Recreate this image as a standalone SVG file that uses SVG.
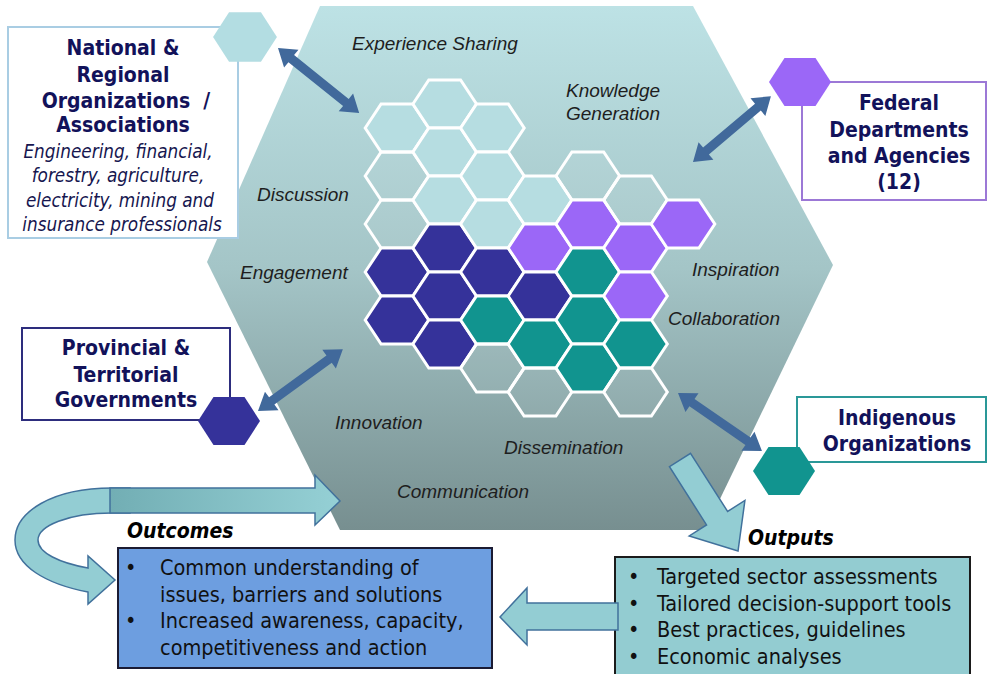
<svg xmlns="http://www.w3.org/2000/svg" width="988" height="674" viewBox="0 0 988 674">
  <style>
    .ttl{font-family:"DejaVu Sans Condensed","DejaVu Sans",sans-serif;font-stretch:condensed;font-weight:bold;font-size:21px;fill:#12125a;text-anchor:middle}
    .sub{font-family:"DejaVu Sans Condensed","DejaVu Sans",sans-serif;font-stretch:condensed;font-style:italic;font-size:18.8px;fill:#16164f;text-anchor:middle}
    .lbl{font-family:"Liberation Sans",Arial,sans-serif;font-style:italic;font-size:19px;fill:#1e1e1e}
    .txt{font-family:"DejaVu Sans Condensed","DejaVu Sans",sans-serif;font-stretch:condensed;font-size:21.5px;fill:#111}
    .hd{font-family:"DejaVu Sans Condensed","DejaVu Sans",sans-serif;font-stretch:condensed;font-weight:bold;font-style:italic;font-size:21px;fill:#000}
    .L{fill:#b6dde1}
    .G{fill:#ffffff;fill-opacity:0.05}
    .N{fill:#35329a}
    .P{fill:#9b67f7}
    .T{fill:#11948f}
    .cells use{stroke:#ffffff;stroke-width:3}
    .dbl{fill:#41699b}
    .blk{fill:#93cdd3;stroke:#41719c;stroke-width:1.5}
    .box{fill:#ffffff;stroke-width:2}
  </style>
  <defs>
    <linearGradient id="hexBg" x1="0" y1="0" x2="0" y2="1">
      <stop offset="0" stop-color="#bde2e5"/>
      <stop offset="0.5" stop-color="#a4c5c7"/>
      <stop offset="1" stop-color="#778f90"/>
    </linearGradient>
    <linearGradient id="shaftGrad" x1="0" y1="0" x2="1" y2="0">
      <stop offset="0" stop-color="#72aeb4"/>
      <stop offset="1" stop-color="#95d0d5"/>
    </linearGradient>
    <polygon id="cell" points="-31.8,0 -15.9,-24 15.9,-24 31.8,0 15.9,24 -15.9,24"/>
    <polygon id="nodeHex" points="-31,0 -15.5,-24 15.5,-24 31,0 15.5,24 -15.5,24"/>
  </defs>

  <!-- central hexagon backdrop -->
  <g id="hub">
    <polygon points="320,6 693,6 833,265 705,530 340,530 207,262" fill="url(#hexBg)"/>
  </g>

  <!-- honeycomb of cells -->
  <g id="honeycomb" class="cells">
    <use href="#cell" class="L" x="397" y="128"/>
    <use href="#cell" class="G" x="397" y="176"/>
    <use href="#cell" class="G" x="397" y="224"/>
    <use href="#cell" class="N" x="397" y="272"/>
    <use href="#cell" class="N" x="397" y="320"/>

    <use href="#cell" class="L" x="444.7" y="104"/>
    <use href="#cell" class="L" x="444.7" y="152"/>
    <use href="#cell" class="L" x="444.7" y="200"/>
    <use href="#cell" class="N" x="444.7" y="248"/>
    <use href="#cell" class="N" x="444.7" y="296"/>
    <use href="#cell" class="N" x="444.7" y="344"/>

    <use href="#cell" class="L" x="492.4" y="128"/>
    <use href="#cell" class="L" x="492.4" y="176"/>
    <use href="#cell" class="L" x="492.4" y="224"/>
    <use href="#cell" class="N" x="492.4" y="272"/>
    <use href="#cell" class="T" x="492.4" y="320"/>
    <use href="#cell" class="G" x="492.4" y="368"/>

    <use href="#cell" class="L" x="540" y="200"/>
    <use href="#cell" class="P" x="540" y="248"/>
    <use href="#cell" class="N" x="540" y="296"/>
    <use href="#cell" class="T" x="540" y="344"/>
    <use href="#cell" class="G" x="540" y="392"/>

    <use href="#cell" class="G" x="587.8" y="176"/>
    <use href="#cell" class="P" x="587.8" y="224"/>
    <use href="#cell" class="T" x="587.8" y="272"/>
    <use href="#cell" class="T" x="587.8" y="320"/>
    <use href="#cell" class="T" x="587.8" y="368"/>

    <use href="#cell" class="G" x="635.5" y="200"/>
    <use href="#cell" class="P" x="635.5" y="248"/>
    <use href="#cell" class="P" x="635.5" y="296"/>
    <use href="#cell" class="T" x="635.5" y="344"/>
    <use href="#cell" class="G" x="635.5" y="392"/>

    <use href="#cell" class="P" x="683" y="224"/>
  </g>

  <!-- activity words around the honeycomb -->
  <g id="activities" class="lbl">
    <text x="352" y="50">Experience Sharing</text>
    <text x="566" y="97">Knowledge</text>
    <text x="566" y="120">Generation</text>
    <text x="257" y="201">Discussion</text>
    <text x="240" y="279">Engagement</text>
    <text x="692" y="276">Inspiration</text>
    <text x="668" y="325">Collaboration</text>
    <text x="335" y="429">Innovation</text>
    <text x="504" y="454">Dissemination</text>
    <text x="397" y="498">Communication</text>
  </g>

  <!-- partner nodes -->
  <g id="national">
    <rect class="box" x="8" y="27" width="230" height="211" stroke="#a9cde3"/>
    <use href="#nodeHex" x="245" y="37" fill="#b3dde2" transform="translate(245 37) scale(1.03) translate(-245 -37)"/>
    <text class="ttl" x="123" y="55">National &amp;</text>
    <text class="ttl" x="123" y="82">Regional</text>
    <text class="ttl" x="126" y="108" style="white-space:pre">Organizations  /</text>
    <text class="ttl" x="123" y="132">Associations</text>
    <text class="sub" x="118" y="158">Engineering, financial,</text>
    <text class="sub" x="118" y="182">forestry, agriculture,</text>
    <text class="sub" x="120" y="207">electricity, mining and</text>
    <text class="sub" x="122" y="231">insurance professionals</text>
  </g>

  <g id="federal">
    <rect class="box" x="802" y="82" width="184" height="118" stroke="#9c78d6"/>
    <use href="#nodeHex" x="800" y="82" fill="#9b67f7"/>
    <text class="ttl" x="899" y="110">Federal</text>
    <text class="ttl" x="899" y="137">Departments</text>
    <text class="ttl" x="899" y="163">and Agencies</text>
    <text class="ttl" x="899" y="189">(12)</text>
  </g>

  <g id="provincial">
    <rect class="box" x="22" y="328" width="208" height="92" stroke="#2d2d7d" stroke-width="1.5"/>
    <text class="ttl" x="126" y="355">Provincial &amp;</text>
    <text class="ttl" x="126" y="382">Territorial</text>
    <text class="ttl" x="126" y="407">Governments</text>
    <use href="#nodeHex" x="229" y="421" fill="#35329a"/>
  </g>

  <g id="indigenous">
    <rect class="box" x="797" y="397" width="189" height="65" stroke="#2a9898"/>
    <text class="ttl" x="897" y="425">Indigenous</text>
    <text class="ttl" x="897" y="451">Organizations</text>
    <use href="#nodeHex" x="784" y="471" fill="#11948f"/>
  </g>

  <!-- result boxes -->
  <g id="outcomes">
    <text class="hd" x="127" y="538">Outcomes</text>
    <rect x="118" y="548" width="374" height="120" fill="#6d9ee0" stroke="#1b1b33" stroke-width="2"/>
    <g class="txt">
      <text x="125" y="575">•</text>
      <text x="160" y="575">Common understanding of</text>
      <text x="160" y="602">issues, barriers and solutions</text>
      <text x="125" y="628">•</text>
      <text x="160" y="628">Increased awareness, capacity,</text>
      <text x="160" y="655">competitiveness and action</text>
    </g>
  </g>

  <g id="outputs">
    <text class="hd" x="748" y="545">Outputs</text>
    <rect x="615" y="557" width="355" height="125" fill="#93ccd1" stroke="#1b1b1b" stroke-width="2"/>
    <g class="txt">
      <text x="628" y="584">•</text>
      <text x="657" y="584">Targeted sector assessments</text>
      <text x="628" y="611">•</text>
      <text x="657" y="611">Tailored decision-support tools</text>
      <text x="628" y="637">•</text>
      <text x="657" y="637">Best practices, guidelines</text>
      <text x="628" y="664">•</text>
      <text x="657" y="664">Economic analyses</text>
    </g>
  </g>

  <!-- connectors -->
  <g id="connectors">
    <!-- two-way exchange arrows -->
    <polygon class="dbl" transform="translate(278 48) rotate(38.7)" points="0,0 17,-11.5 17,-4.5 87,-4.5 87,-11.5 104,0 87,11.5 87,4.5 17,4.5 17,11.5"/>
    <polygon class="dbl" transform="translate(693 162) rotate(-40.2)" points="0,0 17,-11.5 17,-4.5 85,-4.5 85,-11.5 102,0 85,11.5 85,4.5 17,4.5 17,11.5"/>
    <polygon class="dbl" transform="translate(258 411) rotate(-36.1)" points="0,0 17,-11.5 17,-4.5 88,-4.5 88,-11.5 105,0 88,11.5 88,4.5 17,4.5 17,11.5"/>
    <polygon class="dbl" transform="translate(678 393) rotate(34.6)" points="0,0 17,-11.5 17,-4.5 85,-4.5 85,-11.5 102,0 85,11.5 85,4.5 17,4.5 17,11.5"/>

    <!-- feedback loop: outcomes back into the hub -->
    <path class="blk" d="M130,488 L112,488 C52,488 15,512 15,540 C15,566 46,584 88,592 L88,604 L115,580 L88,556 L88,568 C60,563 38,553 38,540 C38,526 68,513 112,513 L130,513 Z"/>
    <polygon class="blk" style="fill:url(#shaftGrad)" points="110,488 315,488 315,475 340,501 315,525 315,513 110,513"/>

    <!-- hub to outputs -->
    <polygon class="blk" transform="translate(680 460) rotate(57.5)" points="0,-12.5 69,-12.5 69,-33 108,0 69,33 69,12.5 0,12.5"/>

    <!-- outputs to outcomes -->
    <polygon class="blk" points="500,617 527,588 527,603 618,603 618,630 527,630 527,645"/>
  </g>
</svg>
